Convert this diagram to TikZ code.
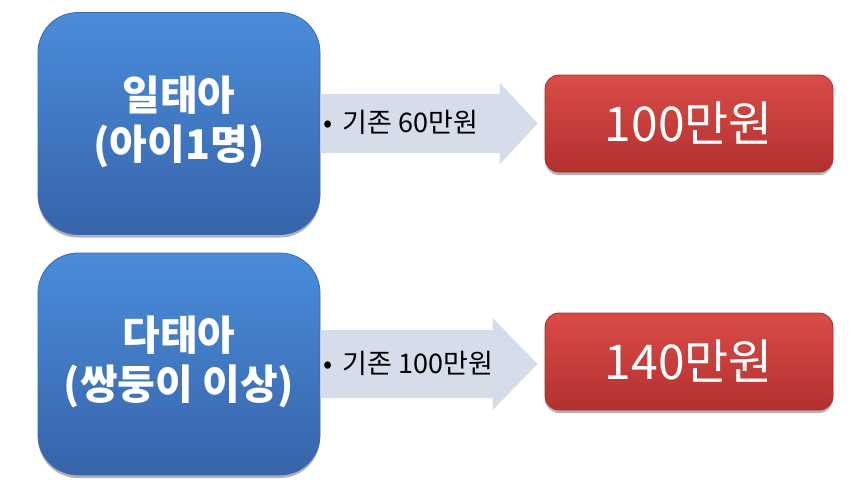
\documentclass[tikz,border=0pt]{standalone}
\usepackage{fontspec}
\setmainfont{Noto Sans CJK KR}
\usetikzlibrary{shadows,calc}
\definecolor{bluetop}{RGB}{74,140,218}
\definecolor{bluebot}{RGB}{55,100,170}
\definecolor{blueedge}{RGB}{60,105,175}
\definecolor{redtop}{RGB}{218,76,72}
\definecolor{redbot}{RGB}{178,48,46}
\definecolor{rededge}{RGB}{165,45,42}
\definecolor{arrowc}{RGB}{213,220,234}
\tikzset{
  bluebox/.style={rounded corners=40pt, top color=bluetop, bottom color=bluebot,
    draw=blueedge, line width=0.8pt, minimum width=282pt, minimum height=222pt,
    drop shadow={shadow xshift=0pt, shadow yshift=-3pt, opacity=0.3, fill=black}},
  redbox/.style={rounded corners=14pt, top color=redtop, bottom color=redbot,
    draw=rededge, line width=0.8pt, minimum width=288pt, minimum height=97pt,
    drop shadow={shadow xshift=0pt, shadow yshift=-3pt, opacity=0.3, fill=black}},
  bluetext/.style={text=white, font=\bfseries\fontsize{41}{49}\selectfont, align=center},
  redtext/.style={text=white, font=\fontsize{48}{52}\selectfont},
  lbl/.style={text=black, font=\fontsize{27}{30}\selectfont, inner sep=0pt, anchor=west},
  blockarrow/.style={fill=arrowc}
}
\begin{document}
\begin{tikzpicture}[x=1pt,y=-1pt]
\useasboundingbox (0,0) rectangle (851,493);
% boxes
\node[bluebox] (b1) at (179,123.5) {};
\node[bluebox] (b2) at (179,364) {};
\node[redbox] (r1) at (689,123.5) {};
\node[redbox] (r2) at (689,361.5) {};
% arrows
\coordinate (tip1) at ([xshift=-7pt]r1.west|-b1.east);
\coordinate (tip2) at ([xshift=-7pt]r2.west|-b2.east);
\fill[blockarrow] ([yshift=29.5pt]b1.east) -- ([xshift=-38pt,yshift=29.5pt]tip1)
  -- ([xshift=-38pt,yshift=41pt]tip1) -- (tip1) -- ([xshift=-38pt,yshift=-41pt]tip1)
  -- ([xshift=-38pt,yshift=-29.5pt]tip1) -- ([yshift=-29.5pt]b1.east) -- cycle;
\fill[blockarrow] ([yshift=34pt]b2.east) -- ([xshift=-45pt,yshift=34pt]tip2)
  -- ([xshift=-45pt,yshift=46pt]tip2) -- (tip2) -- ([xshift=-45pt,yshift=-46pt]tip2)
  -- ([xshift=-45pt,yshift=-34pt]tip2) -- ([yshift=-34pt]b2.east) -- cycle;
% labels
\node[lbl] (t1) at ([xshift=3pt,yshift=1pt]b1.east) {•\hspace{10pt}기존 60만원};
\node[lbl] (t2) at ([xshift=3pt,yshift=1pt]b2.east) {•\hspace{10pt}기존 100만원};
% box texts
\node[bluetext] (x1) at ([yshift=2pt]b1.center) {일태아\\(아이1명)};
\node[bluetext] (x2) at ([yshift=2pt]b2.center) {다태아\\(쌍둥이 이상)};
\node[redtext] (y1) at (r1.center) {100만원};
\node[redtext] (y2) at (r2.center) {140만원};
\end{tikzpicture}
\end{document}
